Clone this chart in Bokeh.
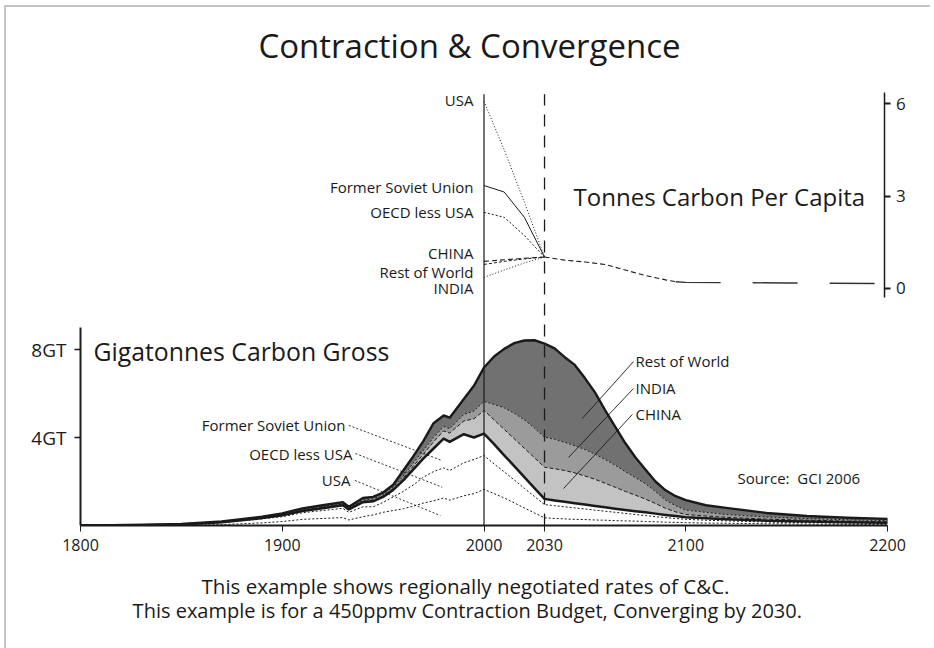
from bokeh.plotting import figure
from bokeh.models import Range1d, LinearAxis, FixedTicker, Label, ColumnDataSource
from bokeh.transform import stack
from bokeh.layouts import column
from bokeh.embed import file_html
from bokeh.resources import INLINE

FONT = "Open Sans"
INK = "#1a1a1a"

# ---------------- data: gross emissions (GtC) by region ----------------
years = [1800, 1830, 1850, 1870, 1890, 1900, 1910, 1920, 1930, 1933, 1940, 1945, 1950,
         1955, 1960, 1965, 1970, 1975, 1980, 1983, 1990, 1995, 2000, 2005, 2010, 2015,
         2020, 2025, 2030, 2035, 2040, 2045, 2050, 2055, 2060, 2065, 2070, 2075, 2080,
         2085, 2090, 2095, 2100, 2110, 2120, 2140, 2160, 2180, 2200]
usa = [0, .005, .01, .04, .12, .18, .28, .32, .36, .25, .40, .48, .60,
       .68, .76, .88, 1.02, 1.12, 1.25, 1.15, 1.35, 1.45, 1.64, 1.45, 1.25, 1.03,
       .80, .57, .35, .32, .30, .28, .27, .25, .24, .22, .21, .20, .18,
       .17, .15, .14, .13, .11, .10, .08, .065, .05, .04]
oecd_less_usa = [0, .015, .035, .09, .18, .22, .30, .36, .42, .35, .45, .37, .45,
                 .62, .79, .97, 1.18, 1.33, 1.37, 1.35, 1.50, 1.55, 1.54, 1.35, 1.19, 1.04,
                 .89, .75, .60, .58, .55, .52, .48, .45, .41, .38, .34, .30, .27,
                 .23, .21, .18, .15, .13, .11, .08, .065, .06, .05]
former_soviet_union = [0, .002, .005, .015, .04, .06, .08, .10, .14, .13, .21, .25, .25,
                       .32, .50, .70, .85, 1.05, 1.33, 1.30, 1.30, 1.00, 1.00, .90, .75, .63,
                       .51, .38, .26, .24, .23, .21, .20, .19, .18, .16, .15, .15, .15,
                       .14, .12, .11, .10, .09, .07, .06, .05, .04, .03]
china = [0, .002, .005, .007, .015, .02, .03, .03, .03, .02, .04, .04, .05,
         .06, .10, .15, .20, .30, .35, .40, .60, .85, 1.05, 1.10, 1.18, 1.24,
         1.31, 1.38, 1.44, 1.44, 1.42, 1.38, 1.30, 1.21, 1.09, .98, .85, .73, .60,
         .46, .30, .19, .12, .10, .09, .07, .06, .05, .05]
india = [0, .002, .005, .008, .015, .02, .02, .03, .03, .03, .05, .06, .06,
         .07, .10, .15, .17, .20, .20, .20, .30, .35, .41, .70, .98, 1.16,
         1.29, 1.35, 1.37, 1.34, 1.28, 1.24, 1.20, 1.14, 1.08, 1.00, .90, .80, .70,
         .55, .37, .28, .20, .17, .13, .10, .07, .06, .05]
rest_of_world = [0, .004, .01, .02, .03, .05, .07, .08, .08, .07, .10, .10, .09,
                 .10, .25, .30, .43, .65, .50, .50, .70, 1.15, 1.54, 2.18, 2.68, 3.19,
                 3.61, 3.99, 4.25, 4.13, 3.87, 3.67, 3.25, 2.81, 2.25, 1.76, 1.30, .92, .65,
                 .45, .45, .43, .45, .32, .30, .18, .12, .09, .08]

regions = ["usa", "oecd", "fsu", "china", "india", "row"]

# ---------------- data: tonnes carbon per capita ----------------
pc_years = [2000, 2010, 2020, 2030]
pc_usa = [6.07, 4.50, 2.80, 1.02]
pc_fsu = [3.34, 3.13, 2.31, 1.02]
pc_oecd = [2.47, 2.31, 1.72, 1.02]
pc_china = [0.88, 0.93, 0.98, 1.02]
pc_row = [0.78, 0.88, 0.96, 1.02]
pc_india = [0.36, 0.60, 0.83, 1.02]
pc_conv_years = [2030, 2040, 2050, 2060, 2070, 2080, 2090, 2095]
pc_conv = [1.02, 0.92, 0.86, 0.78, 0.60, 0.42, 0.28, 0.22]
pc_tail_years = [2095, 2100, 2120, 2150, 2198]
pc_tail = [0.22, 0.20, 0.19, 0.18, 0.16]

x_ticks = [1800, 1900, 2000, 2030, 2100, 2200]
gt_ticks = [4, 8]
pc_ticks = [0, 3, 6]
marker_years = [2000, 2030]

# ---------------- main figure ----------------
p = figure(width=930, height=560, output_backend="svg", toolbar_location=None,
           x_range=Range1d(1800, 2208.92), y_range=Range1d(0, 23.864),
           x_axis_type=None, y_axis_type=None,
           min_border_left=80, min_border_right=25, min_border_top=0, min_border_bottom=35)
p.outline_line_color = None
p.grid.visible = False
p.background_fill_color = None
p.border_fill_color = None
p.extra_y_ranges = {"pc": Range1d(-7.687, 9.341)}
p.styles = {"box-shadow": "inset 4px 5px 0 0 #ffffff, inset 6px 7px 0 0 #c4c4c6"}

src = ColumnDataSource(dict(year=years, usa=usa, oecd=oecd_less_usa, fsu=former_soviet_union,
                            china=china, india=india, row=rest_of_world))

fills = ["white", "white", "white", "#c3c3c3", "#9b9b9b", "#717171"]
p.varea_stack(stackers=regions, x="year", color=fills, source=src)

line_styles = [
    dict(line_width=1, line_dash="2 2"),   # USA top
    dict(line_width=1, line_dash="2 2"),   # OECD top
    dict(line_width=2.5, line_dash="solid"),  # FSU top
    dict(line_width=1, line_dash="4 2"),   # China top
    dict(line_width=1, line_dash="2 2"),   # India top
    dict(line_width=2.4, line_dash="solid"),  # total
]
for i, st in enumerate(line_styles):
    p.line(x="year", y=stack(*regions[:i + 1]), source=src, line_color=INK,
           line_join="round", **st)

# year markers
p.segment(x0=marker_years[:1], y0=[0], x1=marker_years[:1], y1=[19.6],
          line_color=INK, line_width=1.2)
p.segment(x0=marker_years[1:], y0=[0], x1=marker_years[1:], y1=[19.6],
          line_color=INK, line_width=1.3, line_dash="12 9")

# per-capita lines
pc_styles = [(pc_usa, "1 2", 1), (pc_fsu, "solid", 1), (pc_oecd, "2 2", 1),
             (pc_china, "5 3", 1.1), (pc_row, "3 2", 1), (pc_india, "1 2", 1)]
for vals, dash, w in pc_styles:
    p.line(pc_years, vals, y_range_name="pc", line_color=INK, line_dash=dash, line_width=w)
p.line(pc_conv_years, pc_conv, y_range_name="pc", line_color=INK, line_dash="5 3", line_width=1.1)
p.line(pc_tail_years, pc_tail, y_range_name="pc", line_color="#333333", line_dash="45 32", line_width=1.4)

# ---------------- axes ----------------
xax = LinearAxis(ticker=FixedTicker(ticks=x_ticks), bounds=(1800, 2200))
xax.axis_line_width = 2
xax.axis_line_color = INK
xax.major_tick_in = 0
xax.major_tick_out = 6
xax.major_tick_line_color = INK
xax.minor_tick_line_color = None
xax.major_label_standoff = 7
xax.major_label_text_font = FONT
xax.major_label_text_font_size = "16px"
xax.major_label_text_color = INK
p.add_layout(xax, "below")

yax = LinearAxis(ticker=FixedTicker(ticks=gt_ticks), bounds=(0, 9),
                 major_label_overrides={4: "4GT", 8: "8GT"})
yax.axis_line_width = 2
yax.axis_line_color = INK
yax.major_tick_in = 0
yax.major_tick_out = 6
yax.major_tick_line_width = 1.5
yax.major_tick_line_color = INK
yax.minor_tick_line_color = None
yax.major_label_standoff = 8
yax.major_label_text_font = FONT
yax.major_label_text_font_size = "19px"
yax.major_label_text_color = INK
p.add_layout(yax, "left")

pcax = LinearAxis(y_range_name="pc", ticker=FixedTicker(ticks=pc_ticks), bounds=(-0.28, 6.37),
                  fixed_location=2198.3)
pcax.axis_line_width = 1.5
pcax.axis_line_color = INK
pcax.major_tick_in = 0
pcax.major_tick_out = 6
pcax.major_tick_line_width = 2
pcax.major_tick_line_color = INK
pcax.minor_tick_line_color = None
pcax.major_label_standoff = 6
pcax.major_label_text_font = FONT
pcax.major_label_text_font_size = "17px"
pcax.major_label_text_color = INK
p.add_layout(pcax, "right")


# ---------------- texts ----------------
def lab(fig, x, y, text, size, align="left", rng="default"):
    fig.add_layout(Label(x=x, y=y, text=text, y_range_name=rng, text_font=FONT,
                         text_font_size=size, text_color=INK, text_align=align,
                         text_baseline="middle"))


lab(p, 1992.8, 21.8, "Contraction & Convergence", "33px", "center")
lab(p, 2044.4, 2.98, "Tonnes Carbon Per Capita", "24px", "left", "pc")
lab(p, 1806.4, 7.95, "Gigatonnes Carbon Gross", "24.8px", "left")

# per-capita region labels
for text, y in [("USA", 6.1), ("Former Soviet Union", 3.28), ("OECD less USA", 2.47),
                ("CHINA", 1.14), ("Rest of World", 0.52), ("INDIA", 0.0)]:
    lab(p, 1994.8, y, text, "15px", "right", "pc")

# gross region labels with leaders
left_labels = [("Former Soviet Union", 1931.3, 4.55, 1933.0, 1979.3, 2.95),
               ("OECD less USA", 1934.8, 3.27, 1936.3, 1979.3, 1.74),
               ("USA", 1933.8, 2.05, 1936.0, 1978.4, 0.45)]
for text, tx, ty, lx0, lx1, ly1 in left_labels:
    lab(p, tx, ty, text, "15px", "right")
    p.segment(x0=[lx0], y0=[ty], x1=[lx1], y1=[ly1], line_color=INK, line_width=0.9,
              line_dash="2 2")

right_labels = [("Rest of World", 2075.1, 7.5, 2074.1, 2048.7, 4.86),
                ("INDIA", 2075.1, 6.27, 2074.0, 2041.9, 3.09),
                ("CHINA", 2075.1, 5.09, 2073.5, 2039.4, 1.68)]
for text, tx, ty, lx0, lx1, ly1 in right_labels:
    lab(p, tx, ty, text, "15px", "left")
    p.segment(x0=[lx0], y0=[ty - 0.05], x1=[lx1], y1=[ly1], line_color=INK, line_width=0.9)

lab(p, 2125.6, 2.14, "Source:\u00a0\u00a0GCI 2006", "15px", "left")

# ---------------- caption strip ----------------
cap = figure(width=930, height=88, output_backend="svg", toolbar_location=None,
             x_range=Range1d(0, 930), y_range=Range1d(0, 88),
             x_axis_type=None, y_axis_type=None,
             min_border_left=0, min_border_right=0, min_border_top=0, min_border_bottom=0)
cap.outline_line_color = None
cap.grid.visible = False
cap.background_fill_color = None
cap.border_fill_color = None
cap.styles = {"box-shadow": "inset 4px 0 0 0 #ffffff, inset 6px 0 0 0 #c4c4c6"}
lab(cap, 434, 63, "This example shows regionally negotiated rates of C&C.", "20.5px", "center")
lab(cap, 436, 38, "This example is for a 450ppmv Contraction Budget, Converging by 2030.", "20px", "center")

layout = column(p, cap, spacing=0)
open("out.html", "w").write(file_html(layout, INLINE))
